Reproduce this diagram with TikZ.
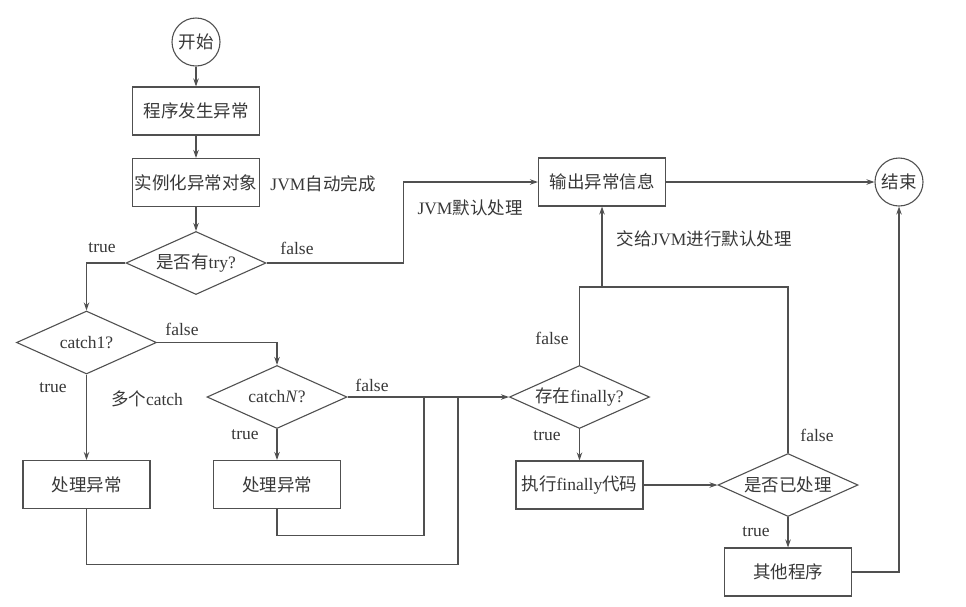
\documentclass[tikz,border=0pt]{standalone}
\usepackage{fontspec}
\setmainfont{Liberation Serif}
\newfontfamily\cjk{Noto Sans CJK SC}
\usetikzlibrary{arrows.meta,shapes.geometric}
\definecolor{fline}{HTML}{505050}
\definecolor{ftext}{HTML}{383838}
\newcommand{\zh}[1]{{\cjk #1}}

\begin{document}
\begin{tikzpicture}[x=1pt, y=-1pt, line width=1.1pt,
    every node/.style={font=\fontsize{17.5}{20}\selectfont, text=ftext, inner sep=0pt},
    term/.style={draw=fline, circle, minimum size=48pt},
    proc/.style={draw=fline, rectangle, minimum width=127pt, minimum height=48pt},
    dec/.style={draw=fline, diamond, aspect=2.2, minimum width=140pt, minimum height=63pt},
    conn/.style={draw=fline, -{Stealth[length=8pt, width=5.5pt]}},
    wire/.style={draw=fline}]
    \fill[white] (0,0) rectangle (966,606);
    \useasboundingbox (0,0) rectangle (966,606);
    % main column
    \node[term] (start) at (196,42) {\zh{开始}};
    \node[proc] (raise) at (196,111) {\zh{程序发生异常}};
    \node[proc] (inst) at (196,182.5) {\zh{实例化异常对象}};
    \node[dec] (try) at (196,263) {\zh{是否有}try?};
    \node[dec] (catcha) at (86.5,342.5) {catch1?};
    \node[dec] (catchn) at (277,397) {catch\textit{N}?};
    \node[proc] (handa) at (86.5,484.5) {\zh{处理异常}};
    \node[proc] (handn) at (277,484.5) {\zh{处理异常}};
    % right part
    \node[proc] (out) at (602,182) {\zh{输出异常信息}};
    \node[term] (end) at (899,182) {\zh{结束}};
    \node[dec] (fin) at (579.5,397) {\zh{存在}finally?};
    \node[proc] (exec) at (579.5,485) {\zh{执行}finally\zh{代码}};
    \node[dec] (done) at (788,485) {\zh{是否已处理}};
    \node[proc] (other) at (788,572) {\zh{其他程序}};
    % join points
    \coordinate (joinn) at (424,397);
    \coordinate (joina) at (458,397);
    \coordinate (up) at (602,287);
    % connectors
    \draw[conn] (start) -- (raise);
    \draw[conn] (raise) -- (inst);
    \draw[conn] (inst) -- (try);
    \draw[conn] (try.west) -| (catcha.north);
    \draw[conn] (try.east) -- ++(137,0) |- (out.west);
    \draw[conn] (catcha.east) -| (catchn.north);
    \draw[conn] (catcha) -- (handa);
    \draw[conn] (catchn) -- (handn);
    \draw[conn] (catchn.east) -- (fin.west);
    \draw[wire] (handn.south) -- ++(0,26) -| (joinn);
    \draw[wire] (handa.south) -- ++(0,55) -| (joina);
    \draw[conn] (fin) -- (exec);
    \draw[wire] (fin.north) |- (up);
    \draw[wire] (done.north) |- (up);
    \draw[conn] (up) -- (out.south);
    \draw[conn] (exec) -- (done);
    \draw[conn] (done) -- (other);
    \draw[conn] (other.east) -| (end.south);
    \draw[conn] (out) -- (end);
    % labels
    \node (jvmauto) at (323,184) {JVM\zh{自动完成}};
    \node (jvmdef) at (470,208) {JVM\zh{默认处理}};
    \node (jvmhand) at (704,239) {\zh{交给}JVM\zh{进行默认处理}};
    \node (multi) at (147,399) {\zh{多个}catch};
    \foreach \x/\y/\lab [count=\i] in {102/248/true, 297/248/false,
      182/329/false, 53/388/true, 372/385/false, 245/435/true,
      552/338/false, 547/436/true, 817/435/false, 756/532/true}{
      \node (tf\i) at (\x,\y) {\lab};
    }
  \end{tikzpicture}
\end{document}
